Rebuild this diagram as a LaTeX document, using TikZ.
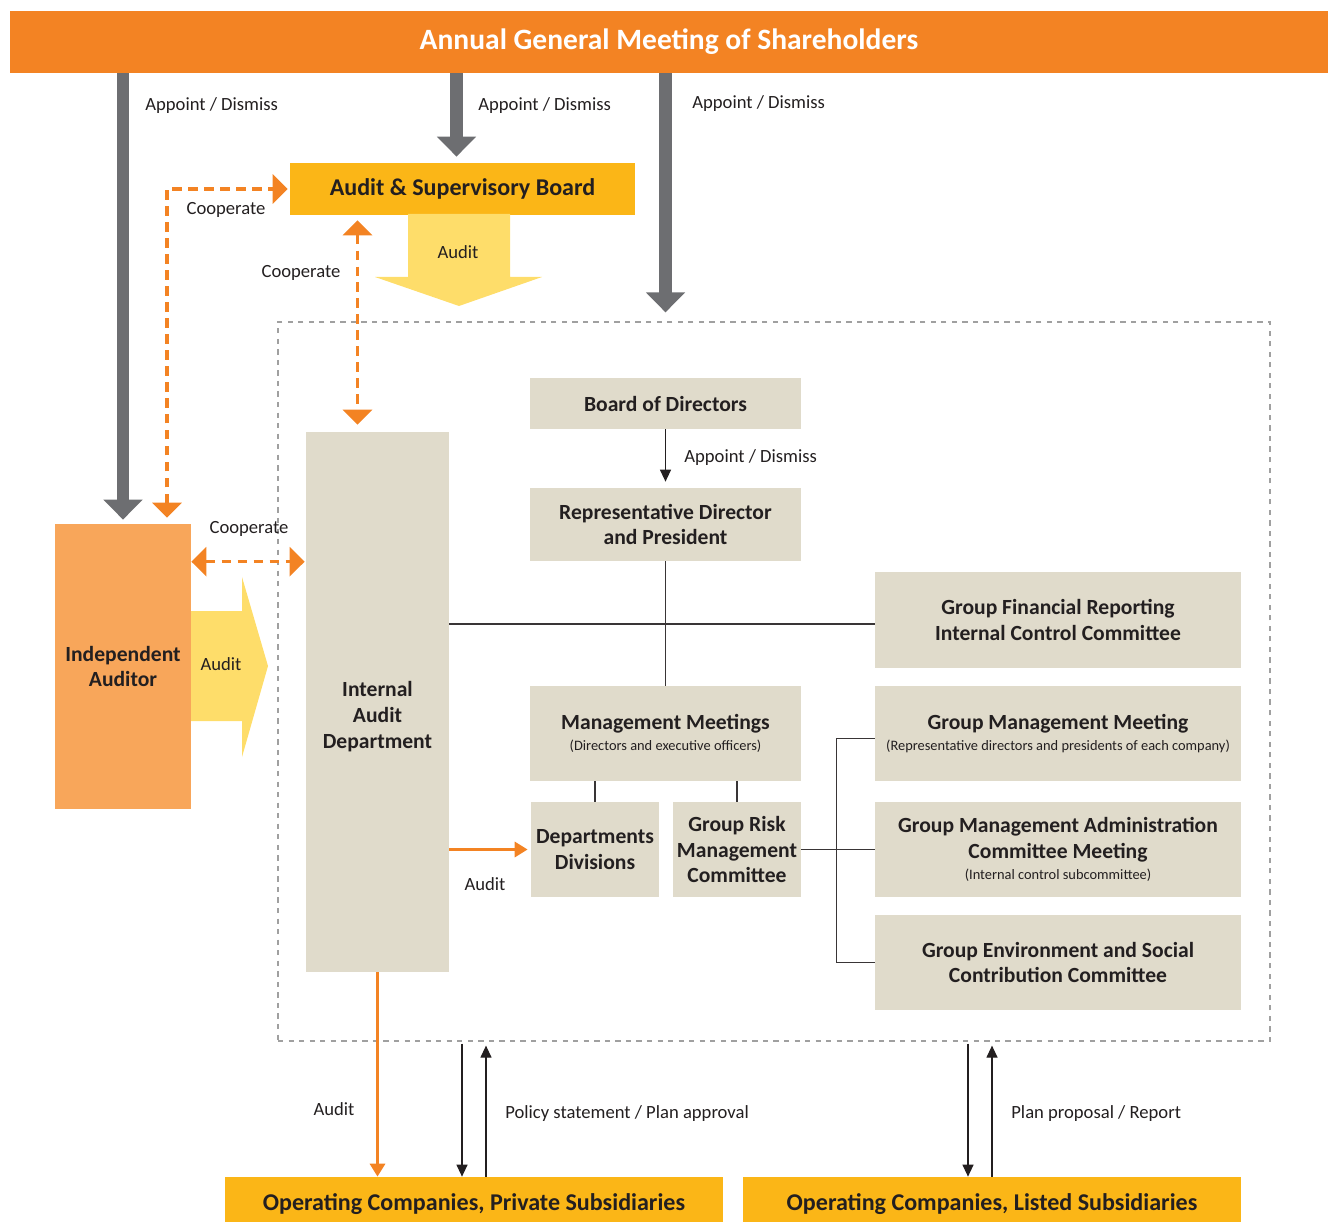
\documentclass[tikz,border=0pt]{standalone}
\usepackage{fontspec}
\setmainfont{Carlito}
\usetikzlibrary{arrows.meta, calc, positioning}
\definecolor{agmorange}{RGB}{243,131,35}
\definecolor{boardyellow}{RGB}{251,182,23}
\definecolor{auditlight}{RGB}{254,221,106}
\definecolor{auditororange}{RGB}{248,166,90}
\definecolor{beige}{RGB}{224,219,203}
\definecolor{arrowgray}{RGB}{109,110,113}
\definecolor{framegray}{RGB}{160,160,160}
\definecolor{ink}{RGB}{35,31,32}
\newcommand{\smalltxt}[1]{{\normalfont\fontsize{8.2}{9}\selectfont #1}}
\tikzset{every node/.style = {text = ink, font = \fontsize{10.6}{12}\selectfont},
         dims/.style 2 args = {minimum width = #1*0.02cm, minimum height = #2*0.02cm},
         boxfont/.style = {font = \bfseries\fontsize{12.3}{14.7}\selectfont},
         box/.style = {fill = beige, inner sep = 0pt, align = center, boxfont},
         yellowbox/.style = {box, fill = boardyellow,
                             font = \bfseries\fontsize{13.7}{16}\selectfont},
         auditorbox/.style = {box, fill = auditororange},
         titlebar/.style = {box, fill = agmorange, text = white,
                            font = \bfseries\fontsize{16.8}{20}\selectfont},
         framebox/.style = {draw = framegray, dashed, line width = 0.7pt, inner sep = 0pt},
         lbl/.style = {anchor = west, inner sep = 0pt},
         clbl/.style = {inner sep = 0pt},
         appoint/.style = {draw = arrowgray, line width = 0.25cm,
                           -{Triangle[width = 0.76cm, length = 0.4cm]}},
         coop/.style = {draw = agmorange, line width = 1.9pt, dash pattern = on 0.19cm off 0.13cm,
                        {Triangle[width = 0.58cm, length = 0.3cm]}-{Triangle[width = 0.58cm, length = 0.3cm]}},
         link/.style = {draw = ink!90, line width = 0.7pt},
         flow/.style = {draw = ink, line width = 0.7pt,
                        -{Triangle[width = 0.22cm, length = 0.24cm]}},
         auditarrow/.style = {draw = agmorange, line width = 1.9pt,
                              -{Triangle[width = 0.3cm, length = 0.26cm]}},
         auditfill/.style = {fill = auditlight}}

\begin{document}
\begin{tikzpicture}[x = 0.02cm, y = -0.02cm]
  \useasboundingbox (0,0) rectangle (1328,1222);

  % frame of the company side
  \node[framebox, dims={992}{719}] (frame) at (774,681.5) {};

  % boxes
  \node[titlebar, dims={1318}{62}]   (agm) at (669,42)      {Annual General Meeting of Shareholders};
  \node[yellowbox, dims={345}{52}]   (asb) at (462.5,189)   {Audit \& Supervisory Board};
  \node[auditorbox, dims={136}{285}] (ia)  at (123,666.5)   {Independent\\Auditor};
  \node[box, dims={143}{540},
        label={[clbl, align=center, boxfont, yshift=-0.29cm]center:Internal\\Audit\\Department}]
                                     (iad) at (377.5,702)   {};
  \node[box, dims={271}{51}]         (bod) at (665.5,403.5) {Board of Directors};
  \node[box, dims={271}{73}]         (rdp) at (665.5,524.5) {Representative Director\\and President};
  \node[box, dims={366}{95}]         (gfr) at (1058,620)    {Group Financial Reporting\\Internal Control Committee};
  \node[box, dims={271}{95}]         (mm)  at (665.5,733.5) {Management Meetings\\[-2.5pt]\smalltxt{(Directors and executive officers)}};
  \node[box, dims={128}{95}]         (dd)  at (595,849.5)   {Departments\\Divisions};
  \node[box, dims={128}{95}]         (grm) at (737,849.5)   {Group Risk\\Management\\Committee};
  \node[box, dims={366}{95}]         (gmm) at (1058,733.5)  {Group Management Meeting\\[-2.5pt]\smalltxt{(Representative directors and presidents of each company)}};
  \node[box, dims={366}{95}]         (gma) at (1058,849.5)  {Group Management Administration\\Committee Meeting\\[-3pt]\smalltxt{(Internal control subcommittee)}};
  \node[box, dims={366}{95}]         (ges) at (1058,962.5)  {Group Environment and Social\\Contribution Committee};
  \node[yellowbox, dims={498}{54}]   (ocp) at (474,1204)    {Operating Companies, Private Subsidiaries};
  \node[yellowbox, dims={498}{54}]   (ocl) at (992,1204)    {Operating Companies, Listed Subsidiaries};

  % appoint / dismiss
  \draw[appoint, shorten >= 0.08cm] (agm.south -| ia.north) -- (ia.north);
  \draw[appoint, shorten >= 0.12cm] ($(agm.south -| asb.north)+(-6,0)$) -- ($(asb.north)+(-6,0)$);
  \draw[appoint, shorten >= 0.18cm] (agm.south -| bod.north) -- (frame.north -| bod.north);
  \node[lbl] (ad1) at (145,106) {Appoint / Dismiss};
  \node[lbl] (ad2) at (478,106) {Appoint / Dismiss};
  \node[lbl] (ad3) at (692,104) {Appoint / Dismiss};

  % audit block arrows
  \fill[auditfill] (408,214) -- (510,214) -- (510,277) -- (542,277) -- (459,306)
                   -- (375,277) -- (408,277) -- cycle;
  \node[clbl] (au1) at (458,252) {Audit};
  \fill[auditfill] (191,611) -- (242,611) -- (242,577) -- (268,666) -- (242,757)
                   -- (242,721) -- (191,721) -- cycle;
  \node[clbl] (au2) at (221,664) {Audit};

  % cooperate
  \draw[coop, shorten < = 0.12cm, shorten > = 0.04cm] ($(ia.north)+(44,0)$) |- (asb.west);
  \draw[coop, shorten < = 0.1cm, shorten > = 0.14cm] ($(asb.south)+(-105,0)$) -- ($(iad.north)+(-20,0)$);
  \coordinate (cp) at ($(ia.north east)+(0,38)$);
  \draw[coop, shorten > = 0.02cm] (cp) -- (cp -| iad.west);
  \node[clbl] (co1) at (226,210) {Cooperate};
  \node[clbl] (co2) at (301,273) {Cooperate};
  \node[clbl] (co3) at (249,529) {Cooperate};

  % management structure
  \draw[flow, shorten >= 0.12cm] (bod.south) -- (rdp.north);
  \node[lbl] (ad4) at (684,458) {Appoint / Dismiss};
  \draw[link] (rdp.south) -- (mm.north);
  \draw[link] ($(iad.east |- gfr.west)+(0,4)$) -- ($(gfr.west)+(0,4)$);
  \draw[link] (dd.north |- mm.south) -- (dd.north);
  \draw[link] (grm.north |- mm.south) -- (grm.north);
  \draw[link] (grm.east) -- (gma.west);
  \draw[link] ($(gmm.west)+(0,5)$) -- ++(-38,0) |- (ges.west);

  % internal audit
  \draw[auditarrow, shorten >= 0.06cm] (iad.east |- dd.west) -- (dd.west);
  \node[clbl] (au3) at (485,884) {Audit};
  \draw[auditarrow] (iad.south) -- (ocp.north -| iad.south);
  \node[clbl] (au4) at (334,1109) {Audit};

  % group companies
  \draw[flow] ($(frame.south -| ocp.north)+(-12,2)$) -- ($(ocp.north)+(-12,0)$);
  \draw[flow] ($(ocp.north)+(12,0)$) -- ($(frame.south -| ocp.north)+(12,4)$);
  \node[lbl] (ps) at (505,1114) {Policy statement / Plan approval};
  \draw[flow] ($(frame.south -| ocl.north)+(-24,2)$) -- ($(ocl.north)+(-24,0)$);
  \draw[flow] (ocl.north) -- ($(frame.south -| ocl.north)+(0,4)$);
  \node[lbl] (pp) at (1011,1114) {Plan proposal / Report};
\end{tikzpicture}
\end{document}
